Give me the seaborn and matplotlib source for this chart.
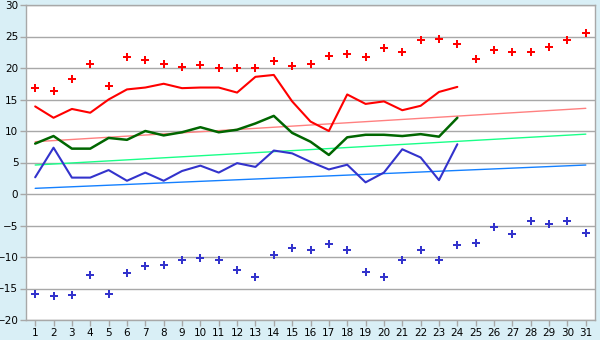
import numpy as np
import pandas as pd
import matplotlib
matplotlib.use('Agg')
import matplotlib.pyplot as plt
import seaborn as sns

# datos
dias = list(range(1, 32))
dias_linea = list(range(1, 25))

max_puntos = [16.8, 16.3, 18.2, 20.6, 17.1, 21.7, 21.2, 20.6, 20.1, 20.4,
              20.0, 20.0, 20.0, 21.1, 20.3, 20.6, 21.9, 22.3, 21.7, 23.1,
              22.5, 24.4, 24.6, 23.8, 21.5, 22.8, 22.5, 22.5, 23.3, 24.4, 25.5]
min_puntos = [-15.9, -16.2, -16.1, -12.9, -15.9, -12.6, -11.5, -11.3, -10.5, -10.2,
              -10.4, -12.0, -13.2, -9.7, -8.6, -8.9, -8.0, -8.9, -12.4, -13.2,
              -10.4, -8.9, -10.5, -8.1, -7.7, -5.3, -6.4, -4.3, -4.8, -4.3, -6.2]

serie_max = [13.9, 12.1, 13.5, 12.9, 15.0, 16.6, 16.9, 17.5, 16.8, 16.9,
             16.9, 16.1, 18.6, 18.9, 14.7, 11.5, 10.0, 15.8, 14.3, 14.7,
             13.3, 14.0, 16.2, 17.0]
serie_media = [8.0, 9.2, 7.2, 7.2, 8.9, 8.6, 10.0, 9.3, 9.8, 10.6,
               9.8, 10.2, 11.2, 12.4, 9.7, 8.3, 6.2, 9.0, 9.4, 9.4,
               9.2, 9.5, 9.1, 12.1]
serie_min = [2.65, 7.35, 2.6, 2.6, 3.8, 2.1, 3.4, 2.1, 3.65, 4.5,
             3.4, 4.9, 4.3, 6.9, 6.45, 5.1, 3.9, 4.65, 1.85, 3.4,
             7.1, 5.8, 2.2, 7.9]

tend_x = [1, 31]
tend_max = [8.3, 13.6]
tend_media = [4.6, 9.5]
tend_min = [0.9, 4.6]

fondo = '#d9eff6'
gris = '#a8a8a8'

sns.set_style('white')
fig = plt.figure(figsize=(6, 3.4), dpi=100, facecolor=fondo)
ax = fig.add_axes([26/600, 1-320/340, 569/600, 315/340])
ax.set_facecolor('white')

# lineas de tendencia
sns.lineplot(x=tend_x, y=tend_max, ax=ax, color='#ff8080', linewidth=1)
sns.lineplot(x=tend_x, y=tend_media, ax=ax, color='#19ff88', linewidth=1)
sns.lineplot(x=tend_x, y=tend_min, ax=ax, color='#1480ff', linewidth=1)

# series diarias
sns.lineplot(x=dias_linea, y=serie_max, ax=ax, color='#ff0000', linewidth=1.5)
sns.lineplot(x=dias_linea, y=serie_media, ax=ax, color='#006600', linewidth=1.8)
sns.lineplot(x=dias_linea, y=serie_min, ax=ax, color='#3333cc', linewidth=1.5)

# extremos
sns.scatterplot(x=dias, y=max_puntos, ax=ax, color='#ff0000', marker='P', s=28, linewidth=0)
sns.scatterplot(x=dias, y=min_puntos, ax=ax, color='#3333cc', marker='P', s=28, linewidth=0)

ax.set_xlim(0.5, 31.5)
ax.set_ylim(-20, 30)
ax.set_xticks(dias)
ax.set_xticklabels([str(d) for d in dias])
ax.set_yticks(np.arange(-20, 31, 5))
ax.grid(axis='y', color=gris, linewidth=1)
ax.set_axisbelow(True)
for s in ax.spines.values():
    s.set_color(gris)
    s.set_linewidth(1)
ax.tick_params(axis='both', colors=gris, labelcolor='black', labelsize=7.5,
               length=4, width=1, direction='out', pad=1.5, left=True, bottom=True)

fig.savefig('out.png', dpi=100, facecolor=fondo)
